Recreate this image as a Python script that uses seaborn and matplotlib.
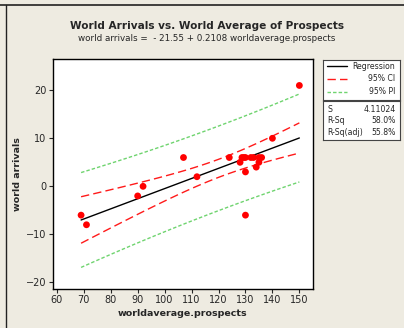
import numpy as np
import pandas as pd
import matplotlib.pyplot as plt
import seaborn as sns

# data
prospects = [69, 71, 90, 92, 107, 112, 124, 128, 128.7, 129.4, 130, 130, 130,
             132, 133, 134, 135, 135, 136, 140, 150]
arrivals = [-6, -8, -2, 0, 6, 2, 6, 5, 6, 6, 6, 3, -6,
            6, 6, 4, 6, 5, 6, 10, 21]
x_ticks = [60, 70, 80, 90, 100, 110, 120, 130, 140, 150]
y_ticks = [-20, -10, 0, 10, 20]
stat_names = ["S", "R-Sq", "R-Sq(adj)"]
stat_values = ["4.11024", "58.0%", "55.8%"]
t_crit = 2.093  # t(0.975, df=19)

df = pd.DataFrame({"x": prospects, "y": arrivals})

# least squares fit + 95% confidence / prediction bands
x = df["x"].to_numpy()
y = df["y"].to_numpy()
n = len(x)
b1, b0 = np.polyfit(x, y, 1)
resid = y - (b0 + b1 * x)
s = np.sqrt((resid ** 2).sum() / (n - 2))
sxx = ((x - x.mean()) ** 2).sum()
xs = np.linspace(x.min(), x.max(), 60)
fit = b0 + b1 * xs
se_ci = s * np.sqrt(1 / n + (xs - x.mean()) ** 2 / sxx)
se_pi = s * np.sqrt(1 + 1 / n + (xs - x.mean()) ** 2 / sxx)
bands = pd.DataFrame({
    "x": xs, "fit": fit,
    "ci_lo": fit - t_crit * se_ci, "ci_hi": fit + t_crit * se_ci,
    "pi_lo": fit - t_crit * se_pi, "pi_hi": fit + t_crit * se_pi,
})

sns.set_style("white")
narrow = ["DejaVu Sans Condensed", "DejaVu Sans"]
bg = "#EEEBE1"
fig = plt.figure(figsize=(4.04, 3.28), dpi=100, facecolor=bg)
ax = fig.add_axes([0.130, 0.120, 0.645, 0.700])
ax.set_facecolor("white")

sns.lineplot(data=bands, x="x", y="fit", color="black", lw=1, ax=ax)
for c in ["ci_lo", "ci_hi"]:
    sns.lineplot(data=bands, x="x", y=c, color="#FF1A1A", lw=1,
                 ax=ax).lines[-1].set_dashes([6, 3])
for c in ["pi_lo", "pi_hi"]:
    sns.lineplot(data=bands, x="x", y=c, color="#6FD46F", lw=1,
                 ax=ax).lines[-1].set_dashes([2.5, 1.5])
sns.scatterplot(data=df, x="x", y="y", color="#FF0000", s=24,
                edgecolor="none", zorder=5, ax=ax)

ax.set_xlim(58.4, 155.1)
ax.set_ylim(-21.3, 26.5)
ax.set_xticks(x_ticks)
ax.set_yticks(y_ticks)
ax.tick_params(labelsize=7, length=3, width=0.8, direction="out",
               bottom=True, left=True, pad=1.5)
for lab in ax.get_xticklabels() + ax.get_yticklabels():
    lab.set_family(narrow)
for sp in ax.spines.values():
    sp.set_color("black")
    sp.set_linewidth(1)
ax.set_xlabel("worldaverage.prospects", fontsize=6.8, fontweight="bold",
              labelpad=3, family=narrow)
ax.set_ylabel("world arrivals", fontsize=6.8, fontweight="bold",
              labelpad=3, family=narrow)

fig.text(0.512, 0.922, "World Arrivals vs. World Average of Prospects",
         ha="center", va="center", fontsize=7.6, fontweight="bold",
         family=narrow)
fig.text(0.512, 0.884, "world arrivals =  - 21.55 + 0.2108 worldaverage.prospects",
         ha="center", va="center", fontsize=6.3, family=narrow)

# legend box
lax = fig.add_axes([0.799, 0.695, 0.190, 0.122])
lax.set_xlim(0, 1)
lax.set_ylim(0, 1)
lax.set_xticks([])
lax.set_yticks([])
for sp in lax.spines.values():
    sp.set_color("#444444")
    sp.set_linewidth(0.8)
labels = ["Regression", "95% CI", "95% PI"]
styles = [("black", None), ("#FF1A1A", [6, 3]), ("#6FD46F", [2.5, 1.5])]
for i, (lab, (col, dsh)) in enumerate(zip(labels, styles)):
    yy = 0.85 - i * 0.32
    ln, = lax.plot([0.06, 0.32], [yy, yy], color=col, lw=1)
    if dsh:
        ln.set_dashes(dsh)
    lax.text(0.94, yy, lab, ha="right", va="center", fontsize=5.6,
             family=narrow)

# stats box
sax = fig.add_axes([0.799, 0.573, 0.190, 0.118])
sax.set_xlim(0, 1)
sax.set_ylim(0, 1)
sax.set_xticks([])
sax.set_yticks([])
for sp in sax.spines.values():
    sp.set_color("#444444")
    sp.set_linewidth(0.8)
for i, (nm, val) in enumerate(zip(stat_names, stat_values)):
    yy = 0.80 - i * 0.30
    sax.text(0.06, yy, nm, ha="left", va="center", fontsize=5.6,
             family=narrow)
    sax.text(0.95, yy, val, ha="right", va="center", fontsize=5.6,
             family=narrow)

# outer frame lines (top and left)
fig.add_artist(plt.Line2D([0, 1], [0.986, 0.986], color="#222222", lw=1.2,
                          transform=fig.transFigure))
fig.add_artist(plt.Line2D([0.0145, 0.0145], [0, 0.986], color="#222222", lw=1,
                          transform=fig.transFigure))

fig.savefig("out.png", dpi=100, facecolor=bg)
